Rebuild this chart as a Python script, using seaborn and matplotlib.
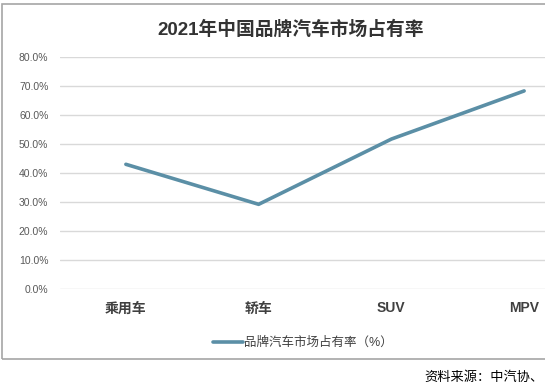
import matplotlib
matplotlib.use("Agg")
import matplotlib.pyplot as plt
import seaborn as sns
from matplotlib.patches import Rectangle
from matplotlib.ticker import PercentFormatter

# =========================================================
#   DATA
# =========================================================
categories = ["乘用车", "轿车", "SUV", "MPV"]
share = [0.430, 0.292, 0.517, 0.683]
y_ticks = [0.0, 0.1, 0.2, 0.3, 0.4, 0.5, 0.6, 0.7, 0.8]
series_name = "品牌汽车市场占有率（%）"
title = "2021年中国品牌汽车市场占有率"
source = "资料来源：中汽协、"

# =========================================================
#   STYLE
# =========================================================
sns.set_style("white")
plt.rcParams['font.family'] = ['Liberation Sans', 'Noto Sans CJK SC', 'DejaVu Sans']

W, H = 545, 392
fig = plt.figure(figsize=(W / 100, H / 100), dpi=100)
ax = fig.add_axes([59.5 / W, 1 - 289 / H, 531 / W, 232 / H])

line_color = "#5b8fa6"
sns.lineplot(x=categories, y=share, sort=False, ax=ax, color=line_color,
             linewidth=2.6, label=series_name)

ax.set_xlim(-0.5, 3.5)
ax.set_ylim(0, 0.8)
ax.set_yticks(y_ticks)
ax.yaxis.set_major_formatter(PercentFormatter(1.0, decimals=1))
ax.grid(axis='y', color='#d9d9d9', linewidth=1)
ax.grid(axis='x', visible=False)
for s in ax.spines.values():
    s.set_visible(False)
ax.tick_params(axis='y', length=0, pad=8, labelsize=7.5, labelcolor='#595959')
ax.tick_params(axis='x', length=0, pad=9, labelsize=10, labelcolor='#404040')
for t in ax.get_xticklabels():
    t.set_fontweight('bold')
ax.set_xlabel("")
ax.set_ylabel("")

# legend below the plot
ax.legend(loc='center', bbox_to_anchor=(303 / W, 1 - 343 / H),
          bbox_transform=fig.transFigure, frameon=False, fontsize=9,
          handlelength=2.4, handletextpad=0.1, labelcolor='#404040')

# title
fig.text(291 / W, 1 - 30 / H, title, ha='center', va='center',
         fontsize=13.5, fontweight='bold', color='#333333')

# chart frame (right side runs past the picture)
fig.patches.append(Rectangle((1.5 / W, 1 - 359 / H), 1.2, 355 / H,
                             transform=fig.transFigure, fill=False,
                             edgecolor='#a6a6a6', linewidth=1.2))

# source note
fig.text(0.998, 1 - 378 / H, source, ha='right', va='center',
         fontsize=9.5, color='#000000')

fig.savefig("out.png", dpi=100)
